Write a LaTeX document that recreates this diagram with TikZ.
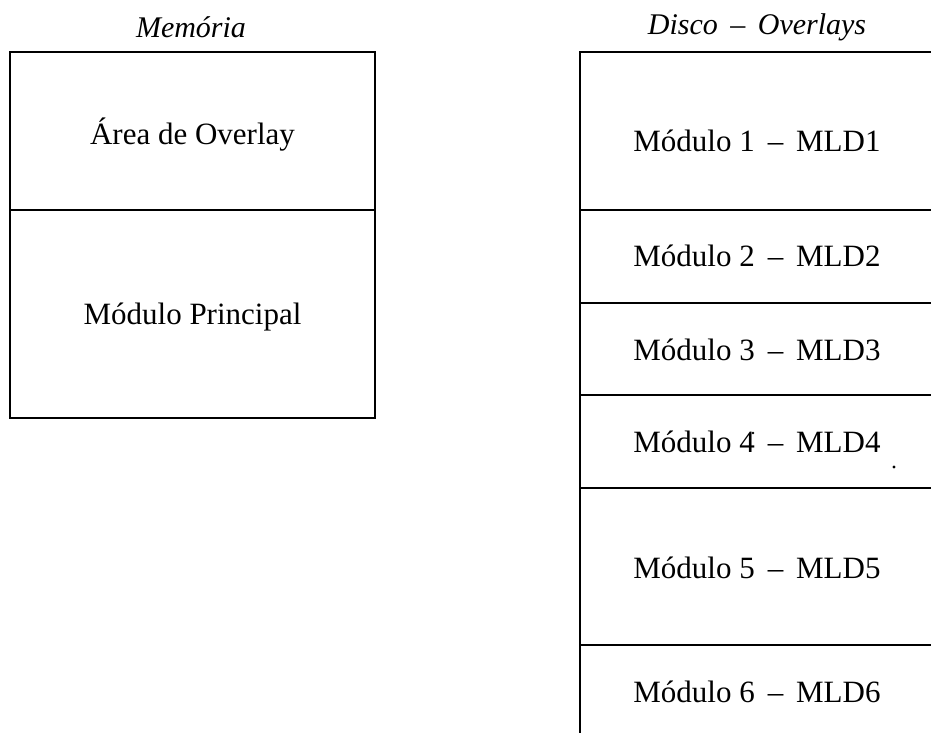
\documentclass[tikz,border=0pt]{standalone}
\usepackage{fontspec}
\setmainfont{Liberation Serif}
\begin{document}
\begin{tikzpicture}[x=1pt,y=-1pt,
  cell/.style={draw=black, line width=1.8pt, rectangle, inner sep=0pt,
    font=\fontsize{31}{36}\selectfont, text depth=0pt},
  ttl/.style={font=\fontsize{30}{34}\selectfont\itshape, inner sep=0pt},
  lbl/.style={font=\fontsize{31}{36}\selectfont, inner sep=0pt}]
\clip (0,0) rectangle (931,732);
\fill[white] (0,0) rectangle (931,732);
% memory column
\node[ttl] (tmem) at (191,27) {Memória};
\node[cell, minimum width=365pt, minimum height=158pt] (area) at (192.5,131) {Área de Overlay};
\node[cell, minimum width=365pt, minimum height=208pt] (princ) at (192.5,314) {Módulo Principal};
% disk column
\node[ttl] (tdisk) at (757,27) {Disco \,--\, Overlays};
\node[cell, minimum width=360pt, minimum height=158pt] (m1) at (760,131) {};
\node[cell, minimum width=360pt, minimum height=93pt] (m2) at (760,256.5) {};
\node[cell, minimum width=360pt, minimum height=92pt] (m3) at (760,349) {};
\node[cell, minimum width=360pt, minimum height=93pt] (m4) at (760,441.5) {};
\node[cell, minimum width=360pt, minimum height=157pt] (m5) at (760,566.5) {};
\node[cell, minimum width=360pt, minimum height=115pt] (m6) at (760,702.5) {};
\node[lbl] (l1) at (757,141) {Módulo 1 \,--\, MLD1};
\node[lbl] (l2) at (757,256) {Módulo 2 \,--\, MLD2};
\node[lbl] (l3) at (757,350) {Módulo 3 \,--\, MLD3};
\node[lbl] (l4) at (757,442) {Módulo 4 \,--\, MLD4};
\node[lbl] (l5) at (757,568) {Módulo 5 \,--\, MLD5};
\node[lbl] (l6) at (757,692) {Módulo 6 \,--\, MLD6};
\fill (894,467) circle (1.6pt);
\fill (753,433) circle (1.3pt);
\end{tikzpicture}
\end{document}
